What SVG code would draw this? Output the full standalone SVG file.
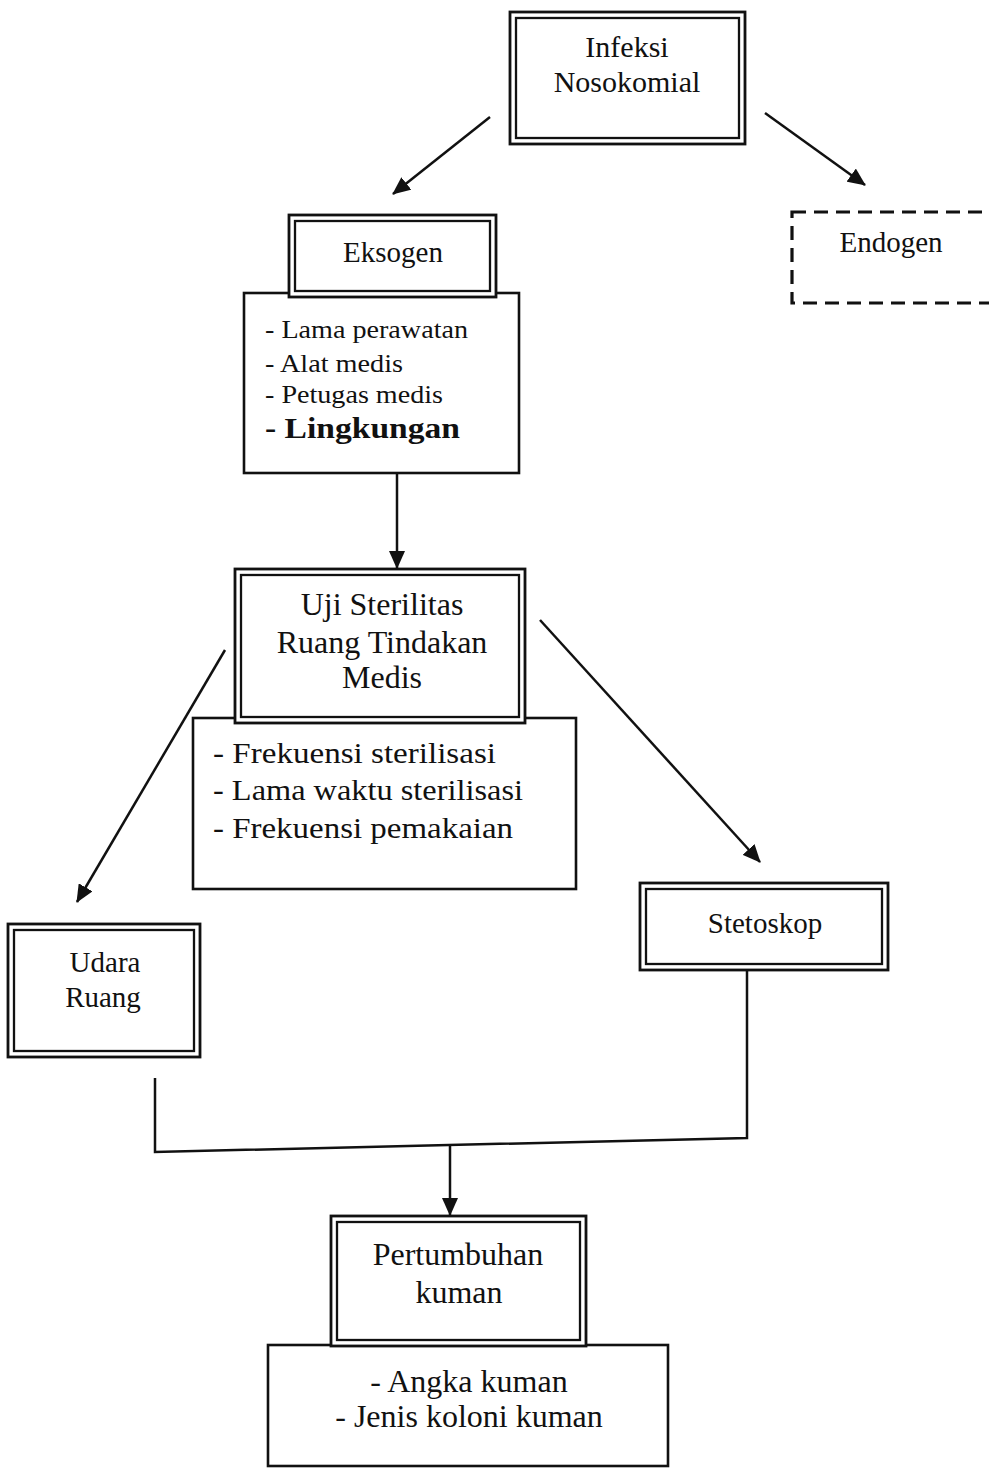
<svg xmlns="http://www.w3.org/2000/svg" width="989" height="1473" viewBox="0 0 989 1473">
<style>
.bg{fill:#ffffff}
.outer{fill:#ffffff;stroke:#111;stroke-width:2.8}
.inner{fill:none;stroke:#111;stroke-width:2.3}
.plain{fill:#ffffff;stroke:#111;stroke-width:2.6}
.dash{fill:#ffffff;stroke:#111;stroke-width:3.2;stroke-dasharray:14 8}
.t{font-family:"Liberation Serif","Times New Roman",serif;fill:#111;text-anchor:middle}
.l{font-family:"Liberation Serif","Times New Roman",serif;fill:#111}
.c{fill:none;stroke:#111;stroke-width:2.5}
</style>
<defs>
<marker id="ah" viewBox="0 0 18 16" refX="17" refY="8" markerWidth="18" markerHeight="16" markerUnits="userSpaceOnUse" orient="auto">
<path d="M0,0 L18,8 L0,16 z" fill="#111"/>
</marker>
</defs>
<rect class="bg" x="0" y="0" width="989" height="1473"/>

<g id="connectors">
<path class="c" d="M490,117 L393,194" marker-end="url(#ah)"/>
<path class="c" d="M765,113 L865,185" marker-end="url(#ah)"/>
<path class="c" d="M397,473 L397,568" marker-end="url(#ah)"/>
<path class="c" d="M225,650 L77,902" marker-end="url(#ah)"/>
<path class="c" d="M540,620 L760,862" marker-end="url(#ah)"/>
<path class="c" d="M155,1078 L155,1152 L747,1138 L747,970"/>
<path class="c" d="M450,1146 L450,1215" marker-end="url(#ah)"/>
</g>

<g id="infeksi">
<rect class="outer" x="510" y="12" width="235" height="132"/>
<rect class="inner" x="516" y="18" width="223" height="120"/>
<text class="t" x="627" y="57" font-size="30">Infeksi</text>
<text class="t" x="627" y="92" font-size="30">Nosokomial</text>
</g>

<g id="endogen">
<rect class="dash" x="792" y="212" width="220" height="91"/>
<text class="t" x="891" y="252" font-size="29">Endogen</text>
</g>

<g id="eksogen-list">
<rect class="plain" x="244" y="293" width="275" height="180"/>
<text class="l" x="265" y="338" font-size="26" textLength="203" lengthAdjust="spacingAndGlyphs">- Lama perawatan</text>
<text class="l" x="265" y="372" font-size="26" textLength="138" lengthAdjust="spacingAndGlyphs">- Alat medis</text>
<text class="l" x="265" y="403" font-size="26" textLength="178" lengthAdjust="spacingAndGlyphs">- Petugas medis</text>
<text class="l" x="265" y="438" font-size="29" font-weight="bold" textLength="195" lengthAdjust="spacingAndGlyphs">- Lingkungan</text>
</g>

<g id="eksogen">
<rect class="outer" x="289" y="215" width="207" height="82"/>
<rect class="inner" x="295" y="221" width="195" height="70"/>
<text class="t" x="393" y="262" font-size="29">Eksogen</text>
</g>

<g id="uji-list">
<rect class="plain" x="193" y="718" width="383" height="171"/>
<text class="l" x="213" y="763" font-size="30" textLength="283" lengthAdjust="spacingAndGlyphs">- Frekuensi sterilisasi</text>
<text class="l" x="213" y="800" font-size="30" textLength="310" lengthAdjust="spacingAndGlyphs">- Lama waktu sterilisasi</text>
<text class="l" x="213" y="838" font-size="30" textLength="300" lengthAdjust="spacingAndGlyphs">- Frekuensi pemakaian</text>
</g>

<g id="uji">
<rect class="outer" x="235" y="569" width="290" height="154"/>
<rect class="inner" x="241" y="575" width="278" height="142"/>
<text class="t" x="382" y="615" font-size="32">Uji Sterilitas</text>
<text class="t" x="382" y="653" font-size="32">Ruang Tindakan</text>
<text class="t" x="382" y="688" font-size="32">Medis</text>
</g>

<g id="udara">
<rect class="outer" x="8" y="924" width="192" height="133"/>
<rect class="inner" x="14" y="930" width="180" height="121"/>
<text class="t" x="105" y="972" font-size="29">Udara</text>
<text class="t" x="103" y="1007" font-size="29">Ruang</text>
</g>

<g id="stetoskop">
<rect class="outer" x="640" y="883" width="248" height="87"/>
<rect class="inner" x="646" y="889" width="236" height="75"/>
<text class="t" x="765" y="933" font-size="29">Stetoskop</text>
</g>

<g id="pertumbuhan-list">
<rect class="plain" x="268" y="1345" width="400" height="121"/>
<text class="t" x="469" y="1392" font-size="32">- Angka kuman</text>
<text class="t" x="469" y="1427" font-size="32">- Jenis koloni kuman</text>
</g>

<g id="pertumbuhan">
<rect class="outer" x="331" y="1216" width="255" height="130"/>
<rect class="inner" x="337" y="1222" width="243" height="118"/>
<text class="t" x="458" y="1265" font-size="32">Pertumbuhan</text>
<text class="t" x="459" y="1303" font-size="32">kuman</text>
</g>
</svg>
